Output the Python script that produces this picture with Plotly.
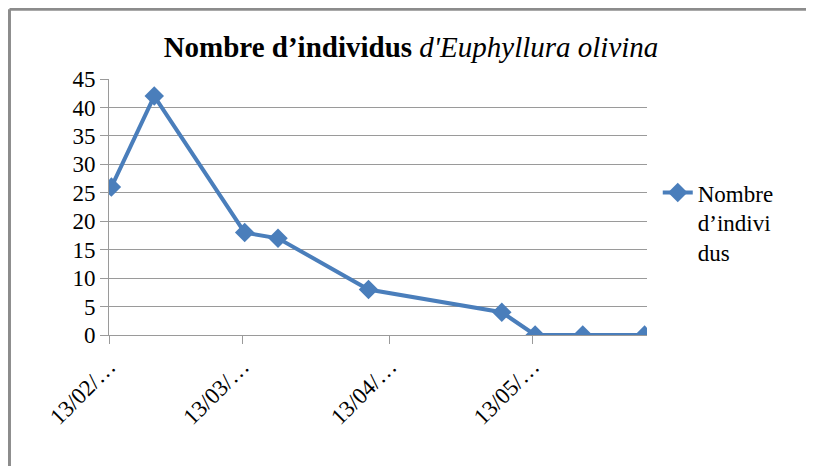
import plotly.graph_objects as go

# dates des relevés et nombre d'individus
dates = ["2013-02-13", "2013-02-22", "2013-03-13", "2013-03-20", "2013-04-08",
         "2013-05-06", "2013-05-13", "2013-05-23", "2013-06-05"]
individus = [26, 42, 18, 17, 8, 4, 0, 0, 0]

tick_dates = ["2013-02-13", "2013-03-13", "2013-04-13", "2013-05-13"]
tick_labels = ["13/02/…", "13/03/…", "13/04/…", "13/05/…"]

FONT = "Liberation Serif, Times New Roman, serif"
BLUE = "#4a7ebb"
GRID = "#9a9a9a"

# points placés au milieu de la journée (axe de dates)
x_pts = [d + " 12:00" for d in dates]

fig = go.Figure()
fig.add_trace(go.Scatter(
    x=x_pts, y=individus, mode="lines+markers",
    name="Nombre<br>d’indivi<br>dus",
    line=dict(color=BLUE, width=4),
    marker=dict(symbol="diamond", size=15, color=BLUE),
))

# la page ajoute une marge de 8 px : figure de 806x458
fig.update_layout(
    width=806, height=458,
    margin=dict(l=101, r=167, t=71, b=131),
    paper_bgcolor="white", plot_bgcolor="white",
    font=dict(family=FONT, size=23, color="black"),
    title=dict(
        text="<b>Nombre d’individus</b> <i>d'Euphyllura olivina</i>",
        x=0.5, xanchor="center", y=0.915, yanchor="middle",
        font=dict(family=FONT, size=29, color="black"),
    ),
    showlegend=True,
    legend=dict(x=1.02, y=0.64, xanchor="left", yanchor="top",
                valign="top", font=dict(family=FONT, size=23),
                bgcolor="rgba(0,0,0,0)", tracegroupgap=0),
    shapes=[
        dict(type="line", xref="paper", yref="paper",
             x0=-0.185, x1=1.32, y0=1.272, y1=1.272,
             line=dict(color="#8c8c8c", width=3)),
        dict(type="line", xref="paper", yref="paper",
             x0=-0.185, x1=-0.185, y0=1.272, y1=-0.52,
             line=dict(color="#8c8c8c", width=3)),
    ],
)

fig.update_xaxes(
    type="date", range=["2013-02-13", "2013-06-06"],
    tickvals=tick_dates, ticktext=tick_labels, tickangle=-45,
    ticks="outside", ticklen=8, tickcolor=GRID,
    showgrid=False, showline=True, linecolor=GRID, linewidth=1,
    tickfont=dict(family=FONT, size=23),
)
fig.update_yaxes(
    range=[0, 45], dtick=5, ticks="outside", ticklen=8, tickcolor=GRID,
    showgrid=True, gridcolor=GRID, gridwidth=1,
    showline=True, linecolor=GRID, linewidth=1, zeroline=False,
    tickfont=dict(family=FONT, size=23),
)

fig.write_html("out.html")
